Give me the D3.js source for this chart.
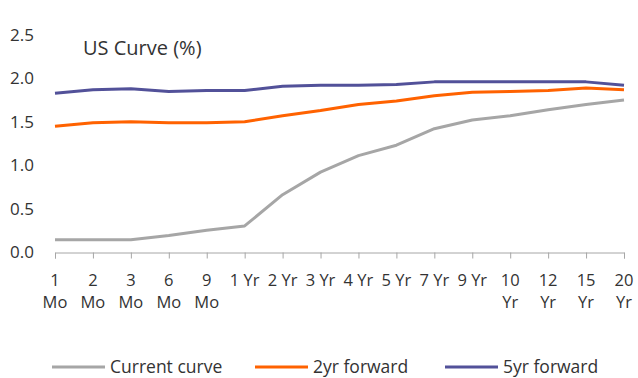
<!DOCTYPE html>
<html>
<head>
<meta charset="utf-8">
<script src="https://cdn.jsdelivr.net/npm/d3@7"></script>
<style>
  html, body { margin: 0; padding: 0; background: #fff; }
  svg text { font-family: "Open Sans", "Noto Sans", sans-serif; fill: #333; }
</style>
</head>
<body>
<svg id="chart" width="638" height="378"></svg>
<script>
// Maturities along the curve (two-line labels)
const maturities = [
  ["1", "Mo"], ["2", "Mo"], ["3", "Mo"], ["6", "Mo"], ["9", "Mo"],
  ["1 Yr"], ["2 Yr"], ["3 Yr"], ["4 Yr"], ["5 Yr"], ["7 Yr"], ["9 Yr"],
  ["10", "Yr"], ["12", "Yr"], ["15", "Yr"], ["20", "Yr"]
];

// Yields (%)
const currentCurve = [0.14, 0.14, 0.14, 0.19, 0.25, 0.30, 0.66, 0.92, 1.11, 1.23, 1.42, 1.52, 1.57, 1.64, 1.70, 1.75];
const fwd2yr       = [1.45, 1.49, 1.50, 1.49, 1.49, 1.50, 1.57, 1.63, 1.70, 1.74, 1.80, 1.84, 1.85, 1.86, 1.89, 1.87];
const fwd5yr       = [1.83, 1.87, 1.88, 1.85, 1.86, 1.86, 1.91, 1.92, 1.92, 1.93, 1.96, 1.96, 1.96, 1.96, 1.96, 1.92];

const yTicks = [0, 0.5, 1.0, 1.5, 2.0, 2.5];

const seriesNames = ["Current curve", "2yr forward", "5yr forward"];
const seriesColors = ["#a6a6a6", "#ff6200", "#525199"];
const seriesValues = [currentCurve, fwd2yr, fwd5yr];

const svg = d3.select("#chart");
const idx = d3.range(maturities.length);

const x = d3.scalePoint().domain(idx).range([55, 624]);
const y = d3.scaleLinear().domain([0, 2.5]).range([252, 35]);

// Y axis labels (no axis line)
svg.append("g").selectAll("text")
  .data(yTicks).join("text")
  .attr("x", 10)
  .attr("y", d => y(d))
  .attr("dy", "0.35em")
  .attr("font-size", 17)
  .text(d => d.toFixed(1));

// X axis
const xAxis = d3.axisBottom(x).tickSize(6).tickFormat("");
const gx = svg.append("g").attr("transform", "translate(0,252.5)").call(xAxis);
gx.select(".domain").attr("stroke", "#a6a6a6").attr("stroke-width", 1);
gx.selectAll(".tick line").attr("stroke", "#a6a6a6");

const labels = svg.append("g").selectAll("text")
  .data(idx).join("text")
  .attr("text-anchor", "middle")
  .attr("font-size", 16.5)
  .attr("x", i => x(i));
labels.selectAll("tspan")
  .data(i => maturities[i].map((t, k) => ({ t, k, i })))
  .join("tspan")
  .attr("x", d => x(d.i))
  .attr("y", d => 286 + d.k * 22)
  .text(d => d.t);

// Title
svg.append("text")
  .attr("x", 83).attr("y", 55)
  .attr("font-size", 20)
  .text("US Curve (%)");

// Lines
const line = d3.line().x((d, i) => x(i)).y(d => y(d));
svg.append("g").selectAll("path")
  .data(seriesValues).join("path")
  .attr("d", line)
  .attr("fill", "none")
  .attr("stroke", (d, i) => seriesColors[i])
  .attr("stroke-width", 3)
  .attr("stroke-linejoin", "round");

// Legend
const legendX = [52, 255, 445];
const leg = svg.append("g").selectAll("g")
  .data(seriesNames).join("g")
  .attr("transform", (d, i) => `translate(${legendX[i]},367)`);
leg.append("line")
  .attr("x1", 0).attr("x2", 53)
  .attr("stroke", (d, i) => seriesColors[i])
  .attr("stroke-width", 3);
leg.append("text")
  .attr("x", 58).attr("dy", "0.35em")
  .attr("font-size", 17.5)
  .text(d => d);
</script>
</body>
</html>
